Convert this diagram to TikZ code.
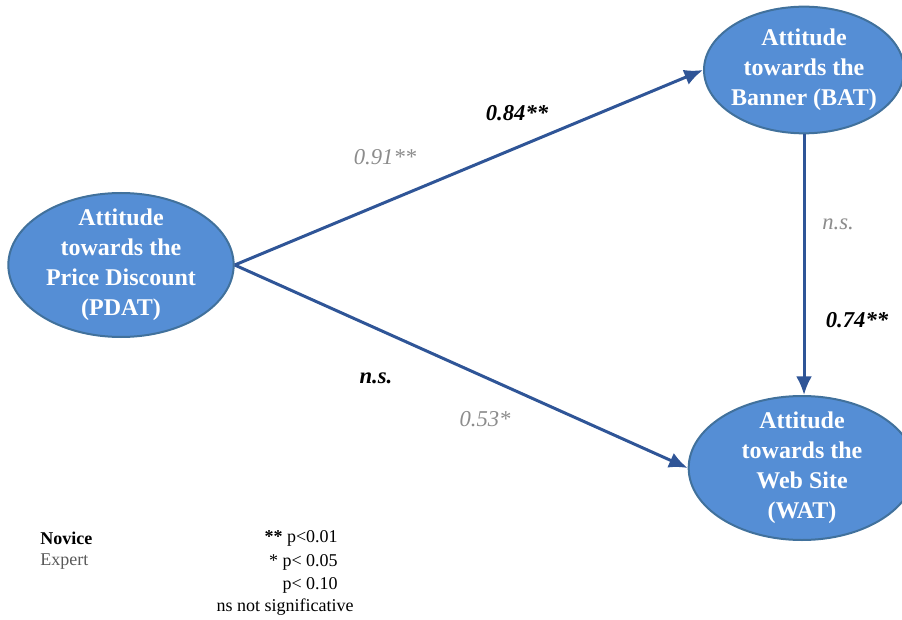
\documentclass[tikz,border=0pt]{standalone}
\usepackage{fontspec}
\setmainfont{Liberation Serif}
\usetikzlibrary{shapes.geometric, arrows.meta}

\definecolor{ovalfill}{HTML}{558ED5}
\definecolor{ovaledge}{HTML}{41719C}
\definecolor{pathblue}{HTML}{2F5597}
\definecolor{expertgray}{HTML}{8C8C8C}
\definecolor{legendgray}{HTML}{595959}

\tikzset{
	construct/.style = {ellipse, draw = ovaledge, line width = 1.5pt, fill = ovalfill, text = white, align = center, inner sep = -8pt, font = \bfseries\fontsize{18}{22.5}\selectfont},
	path arrow/.style = {->, line width = 2.25pt, pathblue},
	novice coef/.style = {font = \bfseries\itshape\fontsize{17}{20}\selectfont},
	expert coef/.style = {text = expertgray, font = \itshape\fontsize{17}{20}\selectfont},
	legend/.style = {inner sep = 0pt, font = \fontsize{13.5}{16}\selectfont}
}

\begin{document}
\begin{tikzpicture}[> = {Latex[length = 14pt, width = 12pt]}, x = 0.75pt, y = -0.75pt]

	\useasboundingbox (0, 0) rectangle (902, 620);

	% Constructs
	
	\node [construct, minimum width = 169pt, minimum height = 108pt] (pdat) at (121, 265) {Attitude\\towards the\\Price Discount\\(PDAT)};
	\node [construct, minimum width = 150pt, minimum height = 95pt] (bat) at (804, 70) {Attitude\\towards the\\Banner (BAT)};
	\node [construct, minimum width = 170pt, minimum height = 108pt] (wat) at (802, 468) {Attitude\\towards the\\Web Site\\(WAT)};
	
	% Paths
	
	\draw [path arrow] (pdat.east) -- (bat.west);
	\draw [path arrow] (pdat.east) -- (wat.west);
	\draw [path arrow] (bat.south) -- (bat.south |- wat.north);
	
	% Coefficients
	
	\node [novice coef] (pb novice) at (517, 113) {0.84**};
	\node [expert coef] (pb expert) at (385, 157) {0.91**};
	\node [novice coef] (pw novice) at (376, 378) {n.s.};
	\node [expert coef] (pw expert) at (485, 419) {0.53*};
	\node [expert coef] (bw expert) at (838, 224) {n.s.};
	\node [novice coef] (bw novice) at (857, 320) {0.74**};
	
	% Legend
	
	\node [legend, anchor = west, font = \bfseries\fontsize{13.5}{16}\selectfont] (novice) at (40, 538) {Novice};
	\node [legend, anchor = west, text = legendgray] (expert) at (40, 562) {Expert};
	\node [legend, anchor = east] (p01) at (338, 538) {\textbf{**} p<0.01};
	\node [legend, anchor = east] (p05) at (338, 562) {* p< 0.05};
	\node [legend, anchor = east] (p10) at (338, 585) {p< 0.10};
	\node [legend] (ns) at (285, 607) {ns not significative};

\end{tikzpicture}
\end{document}
